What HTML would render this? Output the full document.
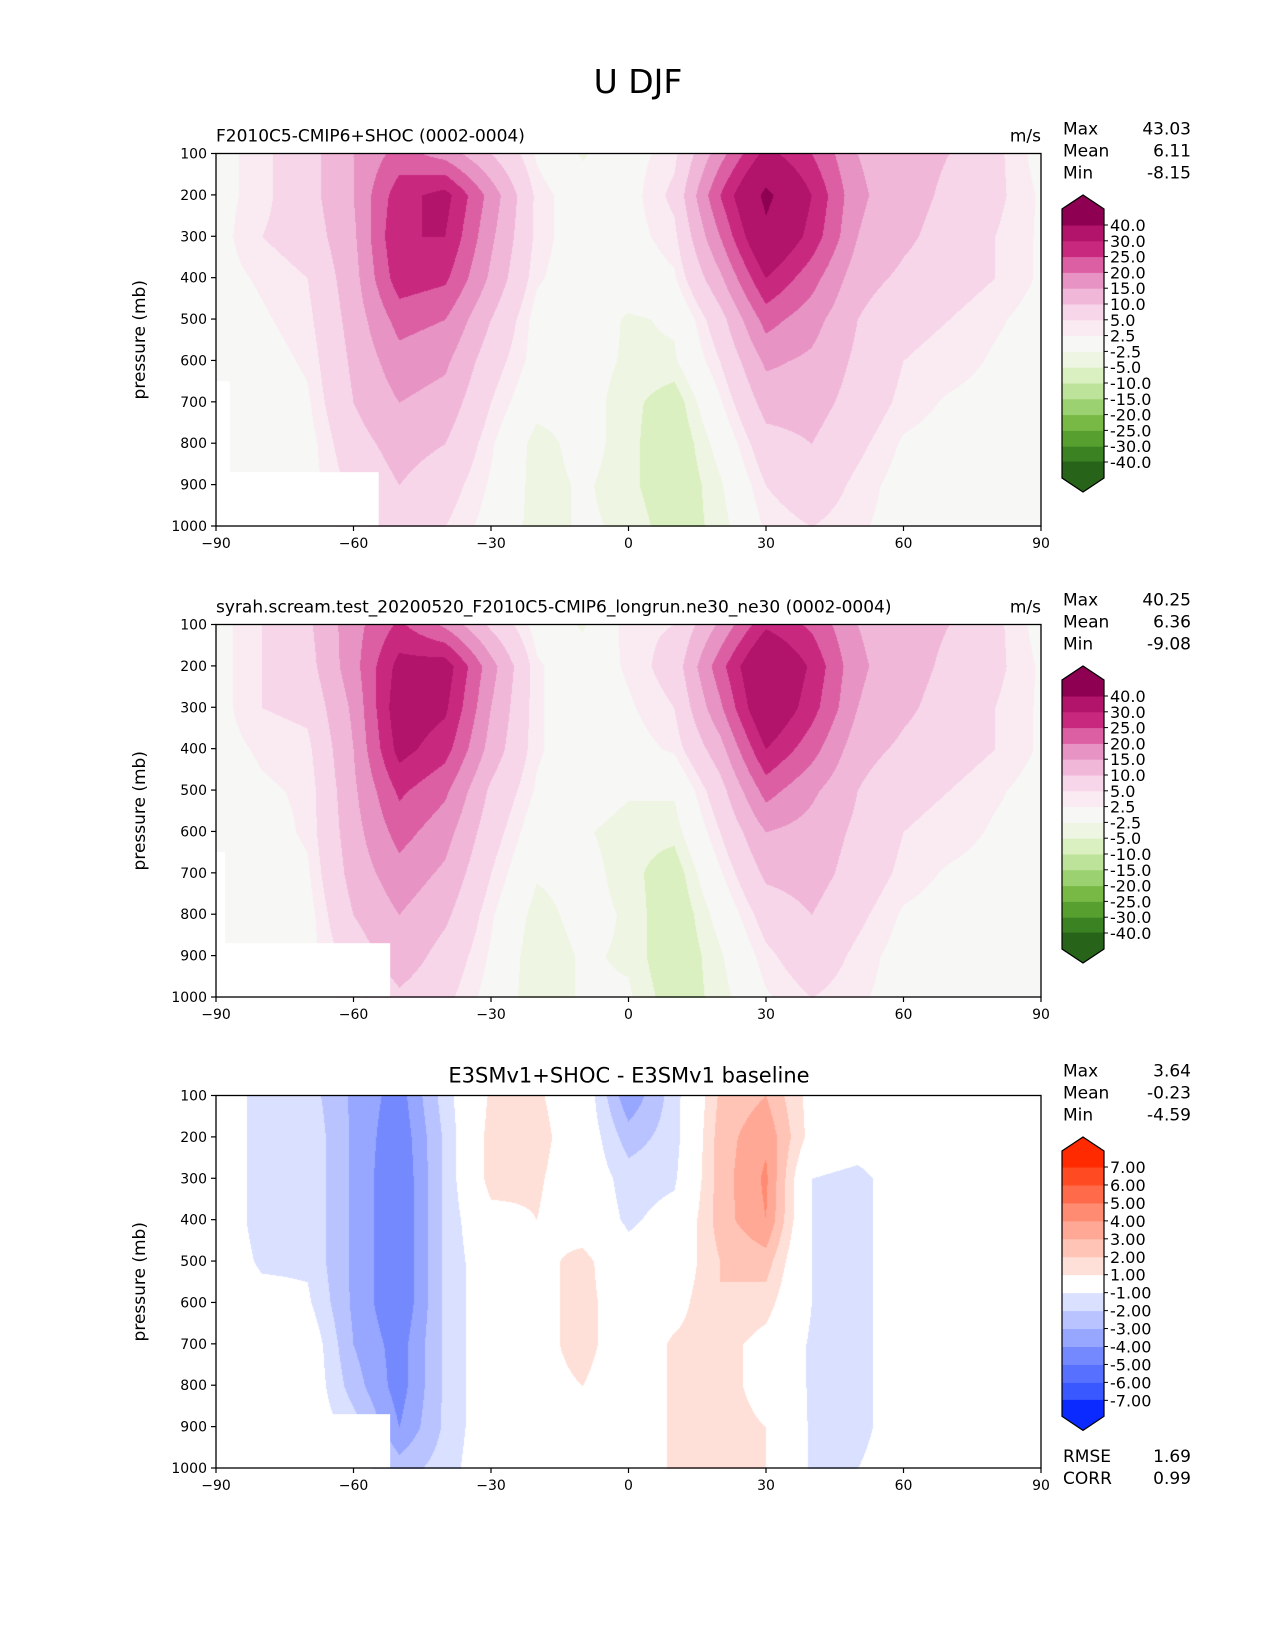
<!DOCTYPE html>
<html><head><meta charset="utf-8"><style>
body{margin:0;background:#fff;}
#wrap{position:relative;width:1275px;height:1650px;overflow:hidden;font-family:"DejaVu Sans","Liberation Sans",sans-serif;}
canvas{position:absolute;}
svg{position:absolute;left:0;top:0;}
</style></head><body>
<div id="wrap">
<canvas id="c0"></canvas>
<canvas id="c1"></canvas>
<canvas id="c2"></canvas>
<svg id="svg" width="1275" height="1650"></svg>
</div>
<script>
const lats=[-90,-80,-70,-60,-50,-40,-30,-20,-10,0,10,20,30,40,50,60,70,80,90];
const levs=[100,200,300,400,500,600,700,800,900,1000];
const testGrid=[
[1,4,8,15,22,18,10,2,-3,1,4,18,32,25,15,12,10,6,1],
[1,4,8,15,28,32,18,4,0,1,6,25,42,30,16,12,9,6,2],
[1,5,7,14,30,30,16,4,0,1,4,20,38,28,15,11,8,5,2],
[1,3,5,13,28,26,14,3,0,0,2,14,30,22,12,9,7,5,2],
[0,2,4,12,22,20,10,1,0,-3,-2,8,22,17,10,6,5,3,1],
[0,1,3,11,18,16,7,1,-1,-3,-3,5,16,14,9,5,4,2,1],
[-1,0,2,10,15,13,5,-1,-1,-4,-7,2,12,12,8,4,2,1,0],
[-1,-1,1,8,12,10,3,-4,-1,-4,-8,-1,8,10,6,2,1,0,0],
[0,-1,1,6,10,7,2,-4,-2,-4,-8,-3,5,8,4,1,0,0,0],
[0,-1,0,4,7,5,1,-4,-2,-3,-7,-4,3,5,3,1,0,0,0]];
const refGrid=[
[1,5,9,18,26,19,9,1,-3,4,5,16,29,24,15,12,10,6,1],
[1,5,8,18,32,33,17,3,0,3,7,23,39,29,16,12,9,6,2],
[1,5,6,16,34,31,15,3,0,2,5,19,37,27,15,11,8,5,2],
[1,3,4,15,32,27,13,3,0,1,3,13,30,22,12,9,7,5,2],
[0,2,3,14,26,21,9,2,0,-2,-2,8,22,16,10,6,5,3,1],
[0,1,3,13,22,17,7,0,-2,-4,-4,5,15,13,9,5,4,2,1],
[-1,0,2,12,18,14,5,-2,-1,-4,-7,2,11,12,8,4,2,1,0],
[-1,-1,1,10,15,11,3,-4,-1,-3,-8,-1,7,10,6,2,1,0,0],
[0,-1,1,7,13,8,2,-5,-2,-3,-8,-3,4,8,4,1,0,0,0],
[0,-1,0,4,9,6,1,-5,-2,-2,-7,-4,2,5,3,1,0,0,0]];
const diffGrid=[
[0,-1.5,-1.5,-3.2,-4.5,-1.5,1.2,1.2,0,-3.8,-1.5,2.2,3,0.5,0,0,0,0,0],
[0,-1.5,-1.2,-3.2,-4.8,-1.8,1.5,1.5,0,-2.5,-1.5,2.5,3.8,0.5,0,0,0,0,0],
[0,-1.5,-1.2,-3.2,-5,-1.8,1.5,1.2,0,-1.5,-1.2,2.5,4.2,-1,-1.5,0,0,0,0],
[0,-1.5,-1.2,-3.2,-5,-1.8,0.5,1,0,-1.2,-0.5,2.5,4,-1,-1.5,0,0,0,0],
[0,-1.2,-1.2,-3.2,-5,-1.8,0,0.5,1.5,-0.5,0,2,2.5,-1,-1.5,0,0,0,0],
[0,-0.5,-0.8,-3.2,-5,-1.8,0,0.5,1.5,0,0.5,2,1.5,-1,-1.5,0,0,0,0],
[0,0,0,-3,-4.5,-1.8,0,0.5,1.5,0,1.2,1.5,0.5,-1.2,-1.5,0,0,0,0],
[0,0,0,-2.5,-4.5,-1.8,0,0.5,1,0,1.2,1.5,0.5,-1.2,-1.5,0,0,0,0],
[0,0,0,-1.5,-4,-1.8,0,0,0,0,1.2,1.5,1,-1.2,-1.5,0,0,0,0],
[0,0,0,0,-2.5,-1.5,0,0,0,0,1.2,1.5,1,-1.2,-1,0,0,0,0]];
const fieldLevels=[-40,-30,-25,-20,-15,-10,-5,-2.5,2.5,5,10,15,20,25,30,40];
const fieldLabels=["-40.0","-30.0","-25.0","-20.0","-15.0","-10.0","-5.0","-2.5","2.5","5.0","10.0","15.0","20.0","25.0","30.0","40.0"];
const fieldColors=["#276419","#3b8223","#57a030","#78b946","#9bd170","#bde39a","#dbf0c0","#eef5e2","#f7f7f5","#faeaf2","#f7d6ea","#f1b7d9","#e794c4","#dc5fa4","#c9287f","#b3146b","#8e0152"];
const diffLevels=[-7,-6,-5,-4,-3,-2,-1,1,2,3,4,5,6,7];
const diffLabels=["-7.00","-6.00","-5.00","-4.00","-3.00","-2.00","-1.00","1.00","2.00","3.00","4.00","5.00","6.00","7.00"];
const diffColors=["#0a2aff","#3a58ff","#5770ff","#7589ff","#97a6ff","#b9c3ff","#dae0ff","#ffffff","#ffe0d8","#ffc4b6","#ffa896","#ff8c72","#ff6a4a","#ff4a22","#ff2a00"];
const xTicks=[-90,-60,-30,0,30,60,90];
const xTickLabels=["\u221290","\u221260","\u221230","0","30","60","90"];
const yTicks=[100,200,300,400,500,600,700,800,900,1000];
const titles=["F2010C5-CMIP6+SHOC (0002-0004)","syrah.scream.test_20200520_F2010C5-CMIP6_longrun.ne30_ne30 (0002-0004)","E3SMv1+SHOC - E3SMv1 baseline"];
const statsMax=["43.03","40.25","3.64"],statsMean=["6.11","6.36","-0.23"],statsMin=["-8.15","-9.08","-4.59"];

const PL=216,PR=1041,PH=372.5;
const tops=[153.5,624.5,1095.5];
const cbTop=[225,696,1167];
function xs(lat){return PL+(lat+90)/180*(PR-PL);}
function ys(p,k){return tops[k]+(p-100)/900*PH;}
const NS='http://www.w3.org/2000/svg';
const svg=document.getElementById('svg');
function el(tag,attrs,parent){const e=document.createElementNS(NS,tag);for(const a in attrs)e.setAttribute(a,attrs[a]);(parent||svg).appendChild(e);return e;}
function txt(s,x,y,size,anchor,parent){const t=el('text',{x:x,y:y,'font-size':size,'text-anchor':anchor||'start',fill:'#000'},parent);t.textContent=s;return t;}
function sample(grid,lat,p){
  let fi=(lat+90)/10,fj=(p-100)/100;
  let i=Math.min(Math.floor(fi),17),j=Math.min(Math.floor(fj),8);
  let u=fi-i,v=fj-j;
  return (grid[j][i]*(1-u)+grid[j][i+1]*u)*(1-v)+(grid[j+1][i]*(1-u)+grid[j+1][i+1]*u)*v;
}
function hex(c){return [parseInt(c.substr(1,2),16),parseInt(c.substr(3,2),16),parseInt(c.substr(5,2),16)];}
function drawField(k,grid,levels,colors){
  const cv=document.getElementById('c'+k);
  const W=Math.round(PR-PL),H=Math.round(PH);
  cv.width=W;cv.height=H;cv.style.left=PL+'px';cv.style.top=tops[k]+'px';
  const ctx=cv.getContext('2d');const img=ctx.createImageData(W,H);
  const rgb=colors.map(hex);
  for(let py=0;py<H;py++){const p=100+(py+0.5)/H*900;
    for(let px=0;px<W;px++){const lat=-90+(px+0.5)/W*180;
      const v=sample(grid,lat,p);let b=0;while(b<levels.length&&v>levels[b])b++;
      const c=rgb[b];const o=(py*W+px)*4;img.data[o]=c[0];img.data[o+1]=c[1];img.data[o+2]=c[2];img.data[o+3]=255;}}
  ctx.putImageData(img,0,0);
}
drawField(0,testGrid,fieldLevels,fieldColors);
drawField(1,refGrid,fieldLevels,fieldColors);
drawField(2,diffGrid,diffLevels,diffColors);

const tt=txt('U DJF',638,93,33,'middle');



const masks=[[[-90,-54.5,870],[-90,-87,650]],[[-90,-52,870],[-90,-88,650]],[[-90,-52,870],[-90,-88,650]]];
for(let k=0;k<3;k++){
  const g=el('g',{});
  
  
  masks[k].forEach(m=>{const r=el('rect',{x:xs(m[0]),y:ys(m[2],k),width:xs(m[1])-xs(m[0]),height:ys(1000,k)-ys(m[2],k),fill:'#fff'},g);
    
    });
  const f=el('rect',{x:PL,y:tops[k],width:PR-PL,height:PH,fill:'none',stroke:'#000','stroke-width':1.3},g);
  
  
  xTicks.forEach((t,i)=>{const x=xs(t);el('line',{x1:x,x2:x,y1:tops[k]+PH,y2:tops[k]+PH+5,stroke:'#000','stroke-width':1.2},g);
    const l=txt(xTickLabels[i],x,tops[k]+PH+22,14,'middle',g);
    
    });
  yTicks.forEach(t=>{const y=ys(t,k);el('line',{x1:PL-5,x2:PL,y1:y,y2:y,stroke:'#000','stroke-width':1.2},g);
    const l=txt(String(t),PL-9,y+5,14,'end',g);
    
    });
  const yl=txt('pressure (mb)',0,0,17,'middle',g);
  yl.setAttribute('transform','translate(145,'+(tops[k]+PH/2)+') rotate(-90)');
  
  
  let pt;
  if(k<2){pt=txt(titles[k],PL,tops[k]-12,17,'start',g);const u=txt('m/s',PR,tops[k]-12,17,'end',g);
    
    }
  else pt=txt(titles[k],629,tops[k]-13,21,'middle',g);
  
  
  const sy=tops[k]-19;
  [['Max',statsMax[k]],['Mean',statsMean[k]],['Min',statsMin[k]]].forEach((s,i)=>{
    const a=txt(s[0],1063,sy+i*22,17,'start',g);
    
    
    const b=txt(s[1],1191,sy+i*22,17,'end',g);
    
    });
  const levels=k<2?fieldLevels:diffLevels,colors=k<2?fieldColors:diffColors,labels=k<2?fieldLabels:diffLabels;
  const step=k<2?15.8:17.95;const n=levels.length;const top=cbTop[k];const bot=top+(n-1)*step;
  const cb=el('g',{},g);
  
  
  const X0=1062,X1=1104,XM=1083,ext=16,tri=14;
  for(let b=1;b<n;b++){const yT=bot-b*step;el('rect',{x:X0,y:yT,width:X1-X0,height:step+0.5,fill:colors[b]},cb);}
  el('polygon',{points:`${X0},${top+0.5} ${X0},${top-ext} ${XM},${top-ext-tri} ${X1},${top-ext} ${X1},${top+0.5}`,fill:colors[n]},cb);
  el('polygon',{points:`${X0},${bot-0.5} ${X0},${bot+ext} ${XM},${bot+ext+tri} ${X1},${bot+ext} ${X1},${bot-0.5}`,fill:colors[0]},cb);
  el('polygon',{points:`${X0},${top} ${X0},${top-ext} ${XM},${top-ext-tri} ${X1},${top-ext} ${X1},${bot+ext} ${XM},${bot+ext+tri} ${X0},${bot+ext}`,fill:'none',stroke:'#000','stroke-width':1.2},cb);
  for(let b=0;b<n;b++){const y=bot-b*step;el('line',{x1:X1,x2:X1+4,y1:y,y2:y,stroke:'#000','stroke-width':1},cb);
    const l=txt(labels[b],X1+6,y+6,16,'start',cb);
    
    }
}
[['RMSE','1.69',1462],['CORR','0.99',1484]].forEach(s=>{
  const a=txt(s[0],1063,s[2],17);
  
  
  const b=txt(s[1],1191,s[2],17,'end');
  
  });
</script>
</body></html>
